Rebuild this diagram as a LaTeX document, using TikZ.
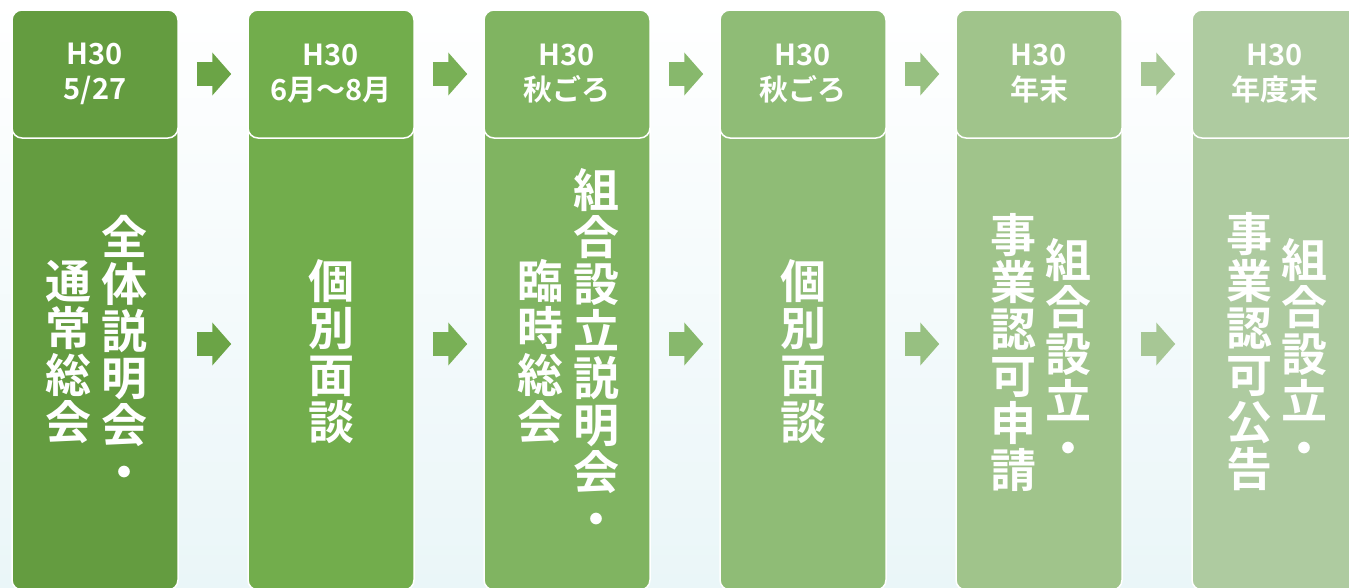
\documentclass[tikz,border=0pt]{standalone}
\usepackage{fontspec}
\setmainfont{Noto Sans CJK JP}[BoldFont={Noto Sans CJK JP Bold}]
\usetikzlibrary{arrows.meta}

\definecolor{stepA}{RGB}{100,156,64}
\definecolor{stepB}{RGB}{114,173,76}
\definecolor{stepC}{RGB}{128,180,97}
\definecolor{stepD}{RGB}{143,188,118}
\definecolor{stepE}{RGB}{160,196,139}
\definecolor{stepF}{RGB}{174,203,160}
\definecolor{bgcyan}{RGB}{234,246,248}

\tikzset{
	hdrbox/.style={draw=white, line width=1.5pt, rounded corners=10pt, minimum width=166pt, minimum height=128pt,
		text=white, align=center, font=\bfseries\fontsize{29}{35}\selectfont},
	bodybox/.style={draw=white, line width=1.5pt, rounded corners=10pt, minimum width=166pt, minimum height=492pt},
	tatetext/.style={text=white, align=center, inner sep=0pt, font=\bfseries\fontsize{46}{47}\selectfont},
	flowarrow/.style={line width=24pt, -{Triangle[width=42pt,length=19pt]}, shorten <=18pt, shorten >=16pt}
}

\begin{document}
\begin{tikzpicture}[x=1pt, y=-1pt]
	\useasboundingbox (0,0) rectangle (1349,587);
	\shade [top color=white, bottom color=bgcyan] (0,0) rectangle (1349,587);

	% columns
	\node [bodybox, fill=stepA] (body1) at (95,344) {};
	\node [hdrbox, fill=stepA] (hdr1) at (95,74) {H30\\5/27};
	\node [bodybox, fill=stepB] (body2) at (331,344) {};
	\node [hdrbox, fill=stepB] (hdr2) at (331,74) {H30\\6月〜8月};
	\node [bodybox, fill=stepC] (body3) at (567,344) {};
	\node [hdrbox, fill=stepC] (hdr3) at (567,74) {H30\\秋ごろ};
	\node [bodybox, fill=stepD] (body4) at (803,344) {};
	\node [hdrbox, fill=stepD] (hdr4) at (803,74) {H30\\秋ごろ};
	\node [bodybox, fill=stepE] (body5) at (1039,344) {};
	\node [hdrbox, fill=stepE] (hdr5) at (1039,74) {H30\\年末};
	\node [bodybox, fill=stepF] (body6) at (1275,344) {};
	\node [hdrbox, fill=stepF] (hdr6) at (1275,74) {H30\\年度末};

	% vertical texts
	\node [tatetext] (txt1a) at (124,352) {全\\体\\説\\明\\会\\・};
	\node [tatetext] (txt1b) at (68,352) {通\\常\\総\\会};
	\node [tatetext] (txt2) at (331,352) {個\\別\\面\\談};
	\node [tatetext] (txt3a) at (596,352) {組\\合\\設\\立\\説\\明\\会\\・};
	\node [tatetext] (txt3b) at (540,352) {臨\\時\\総\\会};
	\node [tatetext] (txt4) at (803,352) {個\\別\\面\\談};
	\node [tatetext] (txt5a) at (1068,352) {組\\合\\設\\立\\・};
	\node [tatetext] (txt5b) at (1013,352) {事\\業\\認\\可\\申\\請};
	\node [tatetext] (txt6a) at (1304,352) {組\\合\\設\\立\\・};
	\node [tatetext] (txt6b) at (1249,352) {事\\業\\認\\可\\公\\告};

	% arrows
	\draw [flowarrow, stepA!50!stepB] (hdr1) -- (hdr2);
	\draw [flowarrow, stepA!50!stepB] (body1) -- (body2);
	\draw [flowarrow, stepB!50!stepC] (hdr2) -- (hdr3);
	\draw [flowarrow, stepB!50!stepC] (body2) -- (body3);
	\draw [flowarrow, stepC!50!stepD] (hdr3) -- (hdr4);
	\draw [flowarrow, stepC!50!stepD] (body3) -- (body4);
	\draw [flowarrow, stepD!50!stepE] (hdr4) -- (hdr5);
	\draw [flowarrow, stepD!50!stepE] (body4) -- (body5);
	\draw [flowarrow, stepE!50!stepF] (hdr5) -- (hdr6);
	\draw [flowarrow, stepE!50!stepF] (body5) -- (body6);
\end{tikzpicture}
\end{document}
